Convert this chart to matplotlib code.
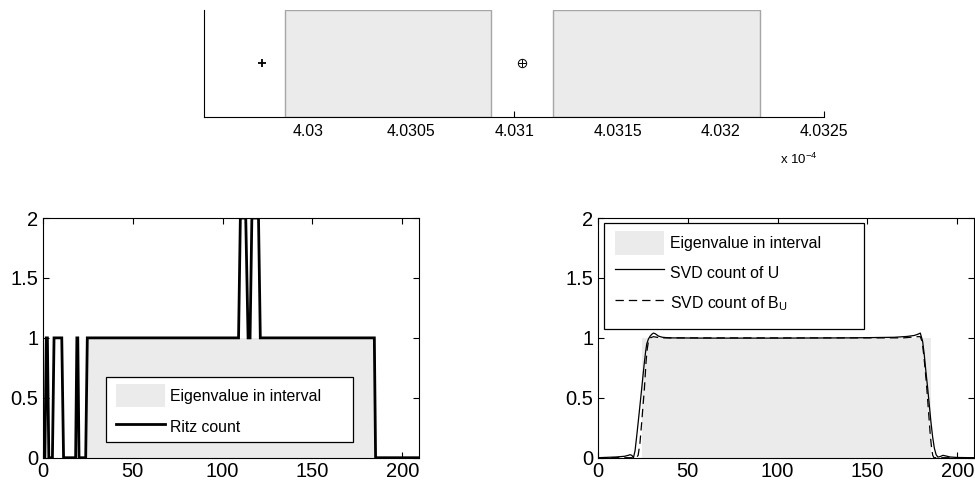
import matplotlib.pyplot as plt
from matplotlib.patches import Rectangle

plt.rcParams['font.family'] = ['Liberation Sans', 'DejaVu Sans']
plt.rcParams['mathtext.fontset'] = 'custom'
plt.rcParams['mathtext.rm'] = 'Liberation Sans'
plt.rcParams['mathtext.it'] = 'Liberation Sans:italic'
plt.rcParams['lines.scale_dashes'] = False

# Top panel: eigenvalue intervals (x in units of 1e-4)
interval_lo = [4.02989, 4.03119]
interval_hi = [4.03089, 4.03219]
plus_x = 4.02978
oplus_x = 4.03104
top_ticks = [4.03, 4.0305, 4.031, 4.0315, 4.032, 4.0325]
top_labels = ['4.03', '4.0305', '4.031', '4.0315', '4.032', '4.0325']

# Bottom panels: index range holding the eigenvalue
eig_lo, eig_hi = 24.5, 185.5

# Ritz count (corners of the step line)
ritz_x = [0, 1.2, 2.0, 2.6, 3.4, 5.4, 6.3, 10.6, 11.6, 18.3, 19.0, 19.5, 20.2, 23.9, 24.8,
          108.9, 109.9, 112.9, 114.2, 115.3, 116.3, 120.0, 121.0, 184.4, 185.1, 209]
ritz_y = [0, 0, 1, 1, 0, 0, 1, 1, 0, 0, 1, 1, 0, 0, 1,
          1, 2, 2, 1, 1, 2, 2, 1, 1, 0, 0]

# SVD count of U
svd_u_x = [0, 5, 10, 15, 17, 18, 19, 19.9, 20.8, 21.7, 22.7, 23.6, 24.5, 25.3, 26, 26.7, 27.3,
           28.2, 29.2, 30.1, 31, 32, 33.8, 36, 40, 60, 100, 140, 165, 172, 176, 178,
           179.4, 180.7, 181.6, 182.5, 183.5, 184.4, 185.3, 186.2, 187.2, 188.2, 189.2,
           190.5, 192, 193.5, 196, 200, 209]
svd_u_y = [0, 0.003, 0.006, 0.012, 0.02, 0.025, 0.02, 0.0, 0.06, 0.18, 0.32, 0.45, 0.58, 0.7, 0.8, 0.89, 0.95,
           0.99, 1.015, 1.03, 1.04, 1.035, 1.015, 1.005, 1.0, 0.998, 0.998, 1.0, 1.005, 1.012, 1.02, 1.03,
           1.04, 0.97, 0.86, 0.72, 0.58, 0.44, 0.30, 0.18, 0.08, 0.025, 0.005,
           0.01, 0.02, 0.015, 0.006, 0.002, 0]

# SVD count of B_U
svd_b_x = [0, 10, 21.5, 22.5, 23.5, 24.5, 25.3, 26, 26.9, 27.5, 28.2, 29.2, 31, 33, 36,
           100, 170, 178, 179.4, 180.4, 181.3, 182.2, 183.0, 183.7, 184.4, 185.0, 185.7,
           186.3, 187, 209]
svd_b_y = [0, 0, 0, 0.02, 0.12, 0.3, 0.45, 0.58, 0.8, 0.9, 0.97, 1.0, 1.01, 1.005, 1.0,
           1.0, 1.0, 1.01, 1.01, 0.97, 0.86, 0.72, 0.58, 0.44, 0.3, 0.18, 0.08,
           0.02, 0, 0]

fill_color = '#ebebeb'
fig = plt.figure(figsize=(9.75, 4.84), dpi=100)

# ---- top panel
ax = fig.add_axes([0.2097, 0.7583, 0.6354, 0.2211])
for lo, hi in zip(interval_lo, interval_hi):
    ax.add_patch(Rectangle((lo, 0), hi - lo, 1, facecolor=fill_color,
                           edgecolor='#a6a6a6', lw=1.0, zorder=1))
ax.plot(plus_x, 0.5, '+', color='k', ms=6, mew=1.3)
ax.plot(oplus_x, 0.5, 'o', mfc='none', mec='k', ms=6, mew=0.7)
ax.plot(oplus_x, 0.5, '+', color='k', ms=6, mew=0.7)
ax.set_xlim(4.0295, 4.0325)
ax.set_ylim(0, 1)
ax.set_axisbelow(True)
ax.set_yticks([])
ax.set_xticks(top_ticks)
ax.set_xticklabels(top_labels)
ax.tick_params(axis='x', direction='in', length=4, labelsize=11.4, pad=5)
ax.spines['top'].set_visible(False)
ax.spines['right'].set_visible(False)
for s in ('left', 'bottom'):
    ax.spines[s].set_linewidth(0.8)
ax.text(0.99, -0.40, r'x 10$^{-4}$', transform=ax.transAxes,
        ha='right', va='center', fontsize=9.5)


def style_bottom(ax):
    ax.set_xlim(0, 209)
    ax.set_ylim(0, 2)
    ax.set_xticks([0, 50, 100, 150, 200])
    ax.set_yticks([0, 0.5, 1, 1.5, 2])
    ax.set_yticklabels(['0', '0.5', '1', '1.5', '2'])
    ax.set_axisbelow(True)
    ax.tick_params(direction='in', length=4, top=True, right=True,
                   labelsize=14.5, pad=3)
    for s in ax.spines.values():
        s.set_linewidth(0.8)


def legend_box(ax, x0, y0, x1, y1, dx, pad, lspace):
    ax.add_patch(Rectangle((x0, y0), x1 - x0, y1 - y0, transform=ax.transAxes,
                           facecolor='white', edgecolor='k', lw=0.9, zorder=4.5))
    leg = ax.legend(loc='upper left', bbox_to_anchor=(x0 + dx, y1), frameon=False,
                    borderaxespad=0, borderpad=pad, labelspacing=lspace,
                    handlelength=3.1, handleheight=1.95, handletextpad=0.35,
                    fontsize=11.4)
    leg.set_zorder(5)


# ---- bottom left
ax = fig.add_axes([0.0438, 0.0543, 0.3855, 0.4952])
ax.fill_between([eig_lo, eig_hi], 0, 1, color=fill_color, lw=0,
                label='Eigenvalue in interval', zorder=1)
ax.plot(ritz_x, ritz_y, color='k', lw=2, solid_joinstyle='miter',
        label='Ritz count', zorder=3)
style_bottom(ax)
legend_box(ax, 0.168, 0.064, 0.826, 0.338, 0.008, 0.43, 0.49)

# ---- bottom right
ax = fig.add_axes([0.613, 0.0543, 0.3855, 0.4952])
ax.fill_between([eig_lo, eig_hi], 0, 1, color=fill_color, lw=0,
                label='Eigenvalue in interval', zorder=1)
ax.plot(svd_u_x, svd_u_y, color='k', lw=0.9, label='SVD count of U', zorder=3)
ax.plot(svd_b_x, svd_b_y, color='k', lw=0.9, dashes=(6, 3.6),
        label=r'SVD count of B$_\mathrm{U}$', zorder=3)
style_bottom(ax)
legend_box(ax, 0.017, 0.536, 0.708, 0.978, 0.009, 0.475, 0.39)

fig.savefig('out.png', dpi=100)
